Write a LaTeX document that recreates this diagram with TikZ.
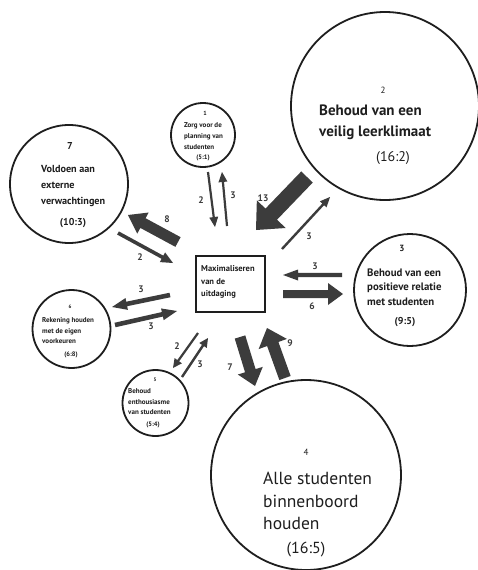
\documentclass[tikz,border=0pt]{standalone}
\usepackage{fontspec}
\setmainfont{PT Sans}
\usetikzlibrary{calc}
\definecolor{agray}{HTML}{3C3C3C}
\definecolor{tblack}{HTML}{1E1E1E}
\newcommand\fs[2]{\fontsize{#1}{#2}\selectfont}
% block arrow: from, to, shaft half width, head half width, head length
\newcommand\blockarr[5]{%
  \path ($(#2)!#5!(#1)$) coordinate (hb);
  \fill[agray] ($(#1)!#3!90:(#2)$) -- ($(hb)!#3!90:(#2)$) -- ($(hb)!#4!90:(#2)$) -- (#2)
    -- ($(hb)!#4!-90:(#2)$) -- ($(hb)!#3!-90:(#2)$) -- ($(#1)!#3!-90:(#2)$) -- cycle;}
\begin{document}
\begin{tikzpicture}[x=1pt,y=-1pt,
  circ/.style={circle,draw=tblack,line width=1.8pt,inner sep=0pt},
  txt/.style={text=tblack,inner sep=0pt,align=left,anchor=west},
  num/.style={text=tblack,inner sep=0pt},
  lab/.style={text=agray,inner sep=0pt,font=\fs{9.5}{10}\bfseries}]
\useasboundingbox (0,0) rectangle (477,570);
\fill[white] (0,0) rectangle (477,570);
% circles
\node[circ,minimum size=64pt] (c1) at (203,135) {};
\node[circ,minimum size=188pt] (c2) at (385,106) {};
\node[circ,minimum size=112pt] (c3) at (410,290) {};
\node[circ,minimum size=190pt] (c4) at (306,475) {};
\node[circ,minimum size=66pt] (c5) at (155.5,403) {};
\node[circ,minimum size=78pt] (c6) at (71.5,329) {};
\node[circ,minimum size=118pt] (c7) at (69,184) {};
\node[draw=tblack,line width=1.8pt,minimum width=69pt,minimum height=56pt,inner sep=0pt] (box) at (230.5,284) {};
% texts
\node[num,font=\fs{6}{7}\bfseries] (n1) at (205,113) {1};
\node[txt,font=\fs{7}{11}\bfseries] (t1) at (184,136.5) {Zorg voor de\\planning van\\studenten};
\node[num,font=\fs{6.5}{7}\bfseries] (r1) at (203,158) {(5:1)};
\node[num,font=\fs{9}{10}] (n2) at (383,90) {2};
\node[txt,font=\fs{15}{21}\bfseries] (t2) at (319,122.5) {Behoud van een\\veilig leerklimaat};
\node[num,font=\fs{14}{15}] (r2) at (393,158) {(16:2)};
\node[num,font=\fs{9}{10}\bfseries] (n3) at (402,248) {3};
\node[txt,font=\fs{10.8}{14.5}\bfseries] (t3) at (367,287) {Behoud van een\\positieve relatie\\met studenten};
\node[num,font=\fs{10}{11}\bfseries] (r3) at (405,322) {(9:5)};
\node[num,font=\fs{9}{10}] (n4) at (306,452) {4};
\node[txt,font=\fs{17.5}{22.5}] (t4) at (263,501) {Alle studenten\\binnenboord\\houden};
\node[num,font=\fs{16}{17}] (r4) at (306,550) {(16:5)};
\node[num,font=\fs{5}{6}\bfseries] (n5) at (155,380) {5};
\node[txt,font=\fs{7}{10.5}\bfseries] (t5) at (128,402) {Behoud\\enthousiasme\\van studenten};
\node[num,font=\fs{6.5}{7}\bfseries] (r5) at (153,425) {(5:4)};
\node[num,font=\fs{5}{6}\bfseries] (n6) at (70,307) {6};
\node[txt,font=\fs{7}{10.5}\bfseries] (t6) at (42,331) {Rekening houden\\met de eigen\\voorkeuren};
\node[num,font=\fs{6.5}{7}\bfseries] (r6) at (71,355) {(6:8)};
\node[num,font=\fs{10}{11}\bfseries] (n7) at (70,146) {7};
\node[txt,font=\fs{10.2}{16}\bfseries] (t7) at (41,186) {Voldoen aan\\externe\\verwachtingen};
\node[num,font=\fs{10}{11}\bfseries] (r7) at (73,223) {(10:3)};
\node[txt,font=\fs{8.5}{12.5}\bfseries] (tb) at (201,282) {Maximaliseren\\van de\\uitdaging};
% arrow end points
\coordinate (a1s) at (208,172); \coordinate (a1e) at (215,227);
\coordinate (a2s) at (227,226); \coordinate (a2e) at (222,172);
\coordinate (a3s) at (307,177); \coordinate (a3e) at (256,230);
\coordinate (a4s) at (282,249); \coordinate (a4e) at (330,197);
\coordinate (a5s) at (342,275); \coordinate (a5e) at (283,275);
\coordinate (a6s) at (283,294); \coordinate (a6e) at (343,294);
\coordinate (a7s) at (240,337); \coordinate (a7e) at (255,386);
\coordinate (a8s) at (285,378); \coordinate (a8e) at (267,328);
\coordinate (a9s) at (198,333); \coordinate (a9e) at (173,368);
\coordinate (a10s) at (182,377); \coordinate (a10e) at (208,338);
\coordinate (a11s) at (170,295); \coordinate (a11e) at (112,307);
\coordinate (a12s) at (115,325); \coordinate (a12e) at (177,311);
\coordinate (a13s) at (178,242); \coordinate (a13e) at (128,215);
\coordinate (a14s) at (118,233); \coordinate (a14e) at (173,263);
% arrows
\blockarr{a1s}{a1e}{1.1pt}{4.5pt}{10pt}
\blockarr{a2s}{a2e}{1.1pt}{4.5pt}{10pt}
\blockarr{a3s}{a3e}{8pt}{20pt}{22pt}
\blockarr{a4s}{a4e}{1.2pt}{4.5pt}{10pt}
\blockarr{a5s}{a5e}{2.2pt}{5.5pt}{15pt}
\blockarr{a6s}{a6e}{4pt}{11pt}{15pt}
\blockarr{a7s}{a7e}{5.5pt}{13pt}{16pt}
\blockarr{a8s}{a8e}{6pt}{15pt}{17pt}
\blockarr{a9s}{a9e}{1.1pt}{4.5pt}{9pt}
\blockarr{a10s}{a10e}{1.2pt}{4.5pt}{9pt}
\blockarr{a11s}{a11e}{2.3pt}{6pt}{15pt}
\blockarr{a12s}{a12e}{2.3pt}{6pt}{15pt}
\blockarr{a13s}{a13e}{5.5pt}{12pt}{17pt}
\blockarr{a14s}{a14e}{1.8pt}{5.5pt}{12pt}
% arrow labels
\node[lab] (l1) at (201,200) {2};
\node[lab] (l2) at (233,195) {3};
\node[lab] (l3) at (263,198) {13};
\node[lab] (l4) at (309,236) {3};
\node[lab] (l5) at (315,266) {3};
\node[lab] (l6) at (312,306) {6};
\node[lab] (l7) at (230,367) {7};
\node[lab] (l8) at (290,343) {9};
\node[lab] (l9) at (177,346) {2};
\node[lab] (l10) at (200,364) {3};
\node[lab] (l11) at (141,289) {3};
\node[lab] (l12) at (151,326) {3};
\node[lab] (l13) at (167,219) {8};
\node[lab] (l14) at (140,257) {2};
\end{tikzpicture}
\end{document}
